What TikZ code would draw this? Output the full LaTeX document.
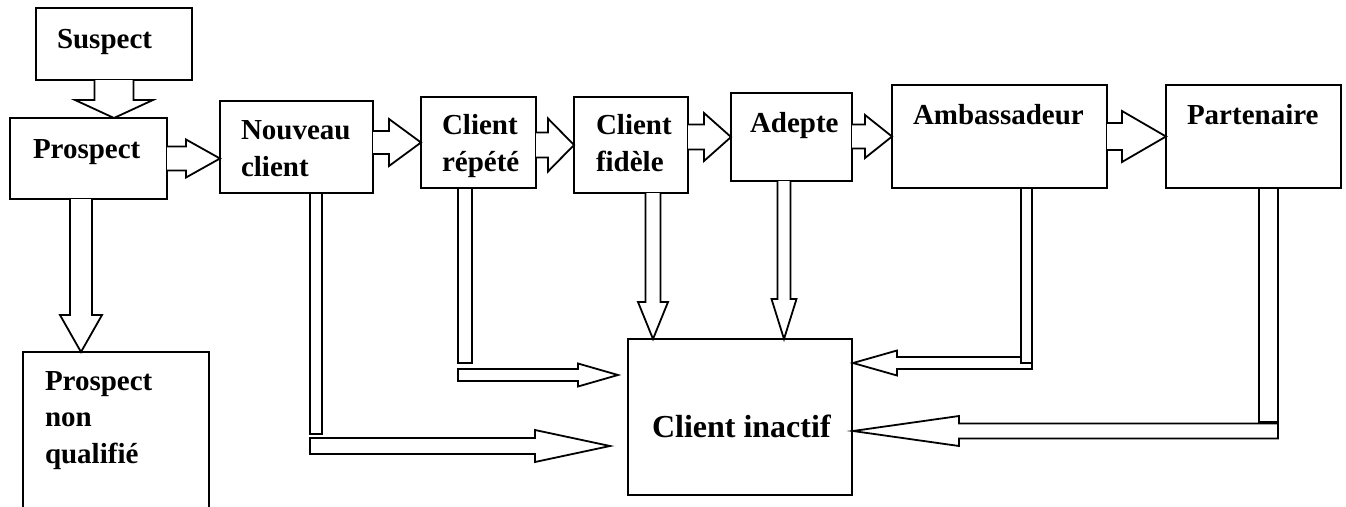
\documentclass[tikz,border=0pt]{standalone}
\usepackage{fontspec}
\setmainfont{Liberation Serif}
\usetikzlibrary{calc}

\tikzset{
  box/.style={draw, line width=1.8pt, rectangle, inner sep=0pt, outer sep=0pt, anchor=north west},
  lbl/.style={inner sep=0pt, outer sep=0pt, anchor=base west, align=left,
              font=\bfseries\fontsize{29}{36.5}\selectfont},
  blk/.style={draw, line width=1.8pt, line join=miter, fill=white},
}

% open block arrow, horizontal: start x from #1, tip at #2, shaft half #3, head half #4, head length #5
\newcommand\flowR[5]{%
  \draw[blk] ($(#1 |- #2)+(0,-#3)$) -- ($(#2)+(-#5,-#3)$) -- ($(#2)+(-#5,-#4)$) -- (#2)
    -- ($(#2)+(-#5,#4)$) -- ($(#2)+(-#5,#3)$) -- ($(#1 |- #2)+(0,#3)$);}
% open block arrow, downward: start y from #1, tip at #2
\newcommand\flowD[5]{%
  \draw[blk] ($(#2 |- #1)+(-#3,0)$) -- ($(#2)+(-#3,-#5)$) -- ($(#2)+(-#4,-#5)$) -- (#2)
    -- ($(#2)+(#4,-#5)$) -- ($(#2)+(#3,-#5)$) -- ($(#2 |- #1)+(#3,0)$);}
% closed horizontal block arrow: start x from #1, tip at #2 (negative #5 points left)
\newcommand\flowH[5]{%
  \draw[blk] ($(#1 |- #2)+(0,-#3)$) -- ($(#2)+(-#5,-#3)$) -- ($(#2)+(-#5,-#4)$) -- (#2)
    -- ($(#2)+(-#5,#4)$) -- ($(#2)+(-#5,#3)$) -- ($(#1 |- #2)+(0,#3)$) -- cycle;}

\begin{document}
\begin{tikzpicture}[x=1pt,y=-1pt]
\clip (0,0) rectangle (1346,506);
\fill[white] (0,0) rectangle (1346,506);

% stage boxes
\node[box, minimum width=156, minimum height=72]  (sus)   at (36,8)    {};
\node[box, minimum width=157, minimum height=81]  (pros)  at (10,118)  {};
\node[box, minimum width=153, minimum height=92]  (nouv)  at (220,101) {};
\node[box, minimum width=115, minimum height=91]  (rep)   at (421,97)  {};
\node[box, minimum width=114, minimum height=96]  (fid)   at (574,97)  {};
\node[box, minimum width=121, minimum height=88]  (adep)  at (731,93)  {};
\node[box, minimum width=215, minimum height=103] (amb)   at (892,85)  {};
\node[box, minimum width=175, minimum height=103] (part)  at (1166,85) {};
\node[box, minimum width=186, minimum height=190] (nq)    at (23,352)  {};
\node[box, minimum width=224, minimum height=156] (inact) at (628,339) {};

% labels (multi-line labels are placed by their last baseline)
\node[lbl] (sus-t)   at (57,48)   {Suspect};
\node[lbl] (pros-t)  at (33,158)  {Prospect};
\node[lbl] (nouv-t)  at (241,176) {Nouveau\\client};
\node[lbl] (rep-t)   at (442,171) {Client\\répété};
\node[lbl] (fid-t)   at (596,171) {Client\\fidèle};
\node[lbl] (adep-t)  at (750,132) {Adepte};
\node[lbl] (amb-t)   at (913,124) {Ambassadeur};
\node[lbl] (part-t)  at (1187,124) {Partenaire};
\node[lbl] (nq-t)    at (45,463)  {Prospect\\non\\qualifié};
\node[lbl, font=\bfseries\fontsize{32}{38}\selectfont] (inact-t) at (652,437) {Client inactif};

% main flow, left to right
\coordinate (t1) at (nouv.west |- pros.east);
\flowR{pros.east}{t1}{12}{19}{34}
\flowR{nouv.east}{rep.west}{11.5}{23.5}{32}
\flowR{rep.east}{fid.west}{12.5}{26.5}{26}
\flowR{fid.east}{adep.west}{12.5}{24}{27}
\flowR{adep.east}{amb.west}{12}{21.5}{27}
\flowR{amb.east}{part.west}{13.5}{25.5}{44}

% downward flows
\coordinate (t2) at (sus.south |- pros.north);
\flowD{sus.south}{t2}{19.5}{39}{18}
\coordinate (t3) at ($(nq.north west)+(58,0)$);
\flowD{pros.south}{t3}{11}{21}{37}
\coordinate (t4) at ($(inact.north west)+(25,0)$);
\flowD{fid.south}{t4}{7.5}{15}{37}
\coordinate (t5) at ($(inact.north west)+(156,0)$);
\flowD{adep.south}{t5}{6.5}{12.5}{40}

% bent flows into the inactive client box
\coordinate (b1) at ($(rep.south west)+(44,0)$);
\coordinate (e1) at ($(inact.north west)+(-10,36)$);
\coordinate (s1) at ($(b1)+(-7,0)$);
\flowH{s1}{e1}{6}{11.5}{40}
\draw[blk] (s1) rectangle ($(b1)+(7,175)$);

\coordinate (b2) at ($(nouv.south west)+(96,0)$);
\coordinate (e2) at ($(inact.north west)+(-18,107)$);
\coordinate (s2) at ($(b2)+(-6,0)$);
\flowH{s2}{e2}{8}{16}{75}
\draw[blk] (s2) rectangle ($(b2)+(6,241)$);

\coordinate (b3) at ($(amb.south west)+(134.5,0)$);
\coordinate (e3) at ($(inact.north east)+(1,24)$);
\coordinate (s3) at ($(b3)+(5.5,0)$);
\flowH{s3}{e3}{6}{12.5}{-44}
\draw[blk] ($(b3)+(-5.5,0)$) rectangle ($(b3)+(5.5,175)$);

\coordinate (b4) at ($(part.south west)+(102.5,0)$);
\coordinate (e4) at ($(inact.north east)+(1,92)$);
\coordinate (s4) at ($(b4)+(9.5,0)$);
\flowH{s4}{e4}{7.5}{15}{-106}
\draw[blk] ($(b4)+(-9.5,0)$) rectangle ($(b4)+(9.5,234)$);
\end{tikzpicture}
\end{document}
